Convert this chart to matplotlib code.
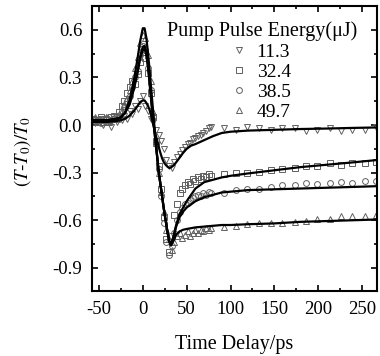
import matplotlib
matplotlib.use('Agg')
import matplotlib.pyplot as plt
from matplotlib.lines import Line2D
from matplotlib.ticker import MultipleLocator

plt.rcParams['font.family'] = ['Liberation Serif', 'DejaVu Serif']
plt.rcParams['mathtext.fontset'] = 'stix'
plt.rcParams['axes.unicode_minus'] = False

# measured points: dense part up to 78 ps, then sparse
t_data = [-57, -54, -51, -48, -45, -42, -39, -36, -33, -30, -27, -24, -21, -18, -15, -12,
          -9, -6, -3, 0, 3, 6, 9, 12, 15, 18, 21, 24, 27, 30, 33, 36, 39, 42, 45, 48, 51,
          54, 57, 60, 63, 66, 69, 72, 75, 78,
          93, 106, 119, 133, 146, 159, 173, 186, 199, 213, 226, 239, 253, 266]

d_113 = [0.03, 0.01, 0.02, 0.04, 0.00, 0.03, 0.02, -0.01, 0.04, 0.02, 0.05, 0.03, 0.06, 0.04,
         0.09, 0.07, 0.12, 0.10, 0.15, 0.18, 0.12, 0.09, 0.04, 0.02, -0.03, -0.06, -0.10, -0.15,
         -0.22, -0.26, -0.27, -0.23, -0.20, -0.18, -0.16, -0.14, -0.12, -0.11, -0.09, -0.08,
         -0.07, -0.06, -0.05, -0.04, -0.02, -0.01,
         -0.02, -0.03, -0.01, -0.02, -0.03, -0.02, -0.02, -0.04, -0.03, -0.02, -0.04, -0.03,
         -0.03, -0.01]
d_324 = [0.04, 0.02, 0.03, 0.05, 0.02, 0.04, 0.03, 0.05, 0.06, 0.05, 0.08, 0.12, 0.15, 0.20,
         0.24, 0.28, 0.26, 0.32, 0.40, 0.46, 0.42, 0.33, 0.20, 0.05, -0.10, -0.26, -0.40, -0.58,
         -0.72, -0.80, -0.70, -0.57, -0.50, -0.43, -0.40, -0.38, -0.36, -0.37, -0.34, -0.35,
         -0.33, -0.34, -0.32, -0.33, -0.31, -0.32,
         -0.31, -0.305, -0.30, -0.295, -0.285, -0.28, -0.27, -0.26, -0.255, -0.24, -0.25, -0.24,
         -0.24, -0.23]
d_385 = [0.02, 0.04, 0.03, 0.01, 0.04, 0.02, 0.05, 0.03, 0.04, 0.06, 0.05, 0.09, 0.11, 0.15,
         0.18, 0.24, 0.30, 0.34, 0.44, 0.50, 0.47, 0.36, 0.22, 0.06, -0.12, -0.28, -0.45, -0.62,
         -0.74, -0.82, -0.76, -0.68, -0.60, -0.55, -0.52, -0.50, -0.49, -0.47, -0.46, -0.45,
         -0.44, -0.45, -0.43, -0.44, -0.42, -0.43,
         -0.43, -0.41, -0.405, -0.40, -0.39, -0.38, -0.375, -0.365, -0.37, -0.365, -0.36, -0.365,
         -0.355, -0.355]
d_497 = [0.03, 0.05, 0.02, 0.04, 0.03, 0.05, 0.02, 0.04, 0.05, 0.04, 0.07, 0.09, 0.13, 0.17,
         0.22, 0.28, 0.36, 0.43, 0.52, 0.57, 0.55, 0.44, 0.28, 0.08, -0.11, -0.30, -0.42, -0.55,
         -0.66, -0.72, -0.79, -0.74, -0.70, -0.68, -0.71, -0.69, -0.67, -0.70, -0.68, -0.66,
         -0.68, -0.66, -0.67, -0.65, -0.66, -0.65,
         -0.645, -0.635, -0.625, -0.62, -0.615, -0.615, -0.61, -0.605, -0.595, -0.59, -0.575,
         -0.575, -0.575, -0.57]

# fitted curves
t_fit = [-58, -40, -30, -25, -20, -15, -10, -6, -3, 0, 2, 4, 6, 8, 10, 12, 14, 16, 18, 20,
         22, 24, 26, 28, 30, 32, 35, 38, 42, 46, 50, 55, 60, 70, 80, 90, 100, 120, 150, 180,
         210, 240, 268]
f_113 = [0.02, 0.02, 0.025, 0.03, 0.04, 0.06, 0.09, 0.12, 0.145, 0.155, 0.155, 0.14, 0.12,
         0.09, 0.05, 0.0, -0.05, -0.09, -0.135, -0.175, -0.21, -0.235, -0.25, -0.262, -0.27,
         -0.268, -0.255, -0.235, -0.205, -0.175, -0.15, -0.13, -0.12, -0.095, -0.07, -0.05,
         -0.042, -0.035, -0.03, -0.025, -0.022, -0.018, -0.015]
f_324 = [0.03, 0.03, 0.04, 0.05, 0.08, 0.13, 0.23, 0.33, 0.42, 0.47, 0.48, 0.44, 0.36, 0.25,
         0.13, 0.03, -0.08, -0.18, -0.29, -0.37, -0.45, -0.53, -0.60, -0.67, -0.73, -0.755,
         -0.70, -0.63, -0.56, -0.52, -0.48, -0.44, -0.40, -0.36, -0.345, -0.33, -0.32, -0.305,
         -0.285, -0.265, -0.25, -0.235, -0.22]
f_385 = [0.03, 0.03, 0.04, 0.05, 0.08, 0.14, 0.24, 0.34, 0.43, 0.49, 0.50, 0.46, 0.37, 0.25,
         0.13, 0.03, -0.08, -0.18, -0.29, -0.37, -0.45, -0.53, -0.60, -0.67, -0.73, -0.755,
         -0.71, -0.64, -0.58, -0.545, -0.52, -0.50, -0.48, -0.455, -0.44, -0.425, -0.42, -0.41,
         -0.405, -0.40, -0.395, -0.39, -0.385]
f_497 = [0.03, 0.03, 0.035, 0.045, 0.08, 0.16, 0.29, 0.42, 0.53, 0.61, 0.61, 0.55, 0.45, 0.33,
         0.20, 0.07, -0.06, -0.18, -0.29, -0.37, -0.45, -0.53, -0.60, -0.67, -0.73, -0.76,
         -0.73, -0.69, -0.67, -0.66, -0.655, -0.65, -0.645, -0.64, -0.635, -0.63, -0.63, -0.625,
         -0.62, -0.61, -0.605, -0.60, -0.595]

labels = ['11.3', '32.4', '38.5', '49.7']
markers = ['v', 's', 'o', '^']
data = [d_113, d_324, d_385, d_497]
fits = [f_113, f_324, f_385, f_497]

fig = plt.figure(figsize=(3.8, 3.56), dpi=100)
ax = fig.add_axes([0.242, 0.183, 0.750, 0.800])

mk_color = '#606060'
for d, m in zip(data, markers):
    ax.plot(t_data, d, linestyle='none', marker=m, markersize=4.2, markerfacecolor='none',
            markeredgecolor=mk_color, markeredgewidth=0.7, zorder=2)
for f in fits:
    ax.plot(t_fit, f, color='black', linewidth=1.6, zorder=3)

ax.set_xlim(-58, 267)
ax.set_ylim(-1.045, 0.75)
ax.xaxis.set_major_locator(MultipleLocator(50))
ax.xaxis.set_minor_locator(MultipleLocator(25))
ax.yaxis.set_major_locator(MultipleLocator(0.3))
ax.yaxis.set_minor_locator(MultipleLocator(0.15))
ax.yaxis.set_major_formatter(plt.FuncFormatter(lambda v, p: f'{v:.1f}'))
ax.tick_params(which='both', direction='in', top=True, right=True, labelsize=13.5, width=1.2)
ax.tick_params(which='major', length=4, pad=7)
ax.tick_params(which='minor', length=2.5)
for s in ax.spines.values():
    s.set_linewidth(1.5)

ax.set_xlabel('Time Delay/ps', fontsize=14.5)
ax.set_ylabel(r'$(T$-$T_0)/T_0$', fontsize=13.5)
ax.xaxis.set_label_coords(0.5, -0.155)
ax.yaxis.set_label_coords(-0.207, 0.49)

handles = [Line2D([], [], linestyle='none', marker=m, markersize=4.2, markerfacecolor='none',
                  markeredgecolor=mk_color, markeredgewidth=0.7) for m in markers]
leg = ax.legend(handles, labels, title='Pump Pulse Energy(μJ)', loc='upper right',
                frameon=False, fontsize=14, title_fontsize=14.5, handlelength=0.6,
                handletextpad=0.6, labelspacing=0.13, borderaxespad=0,
                bbox_to_anchor=(0.958, 0.975))

fig.savefig('out.png', dpi=100)
